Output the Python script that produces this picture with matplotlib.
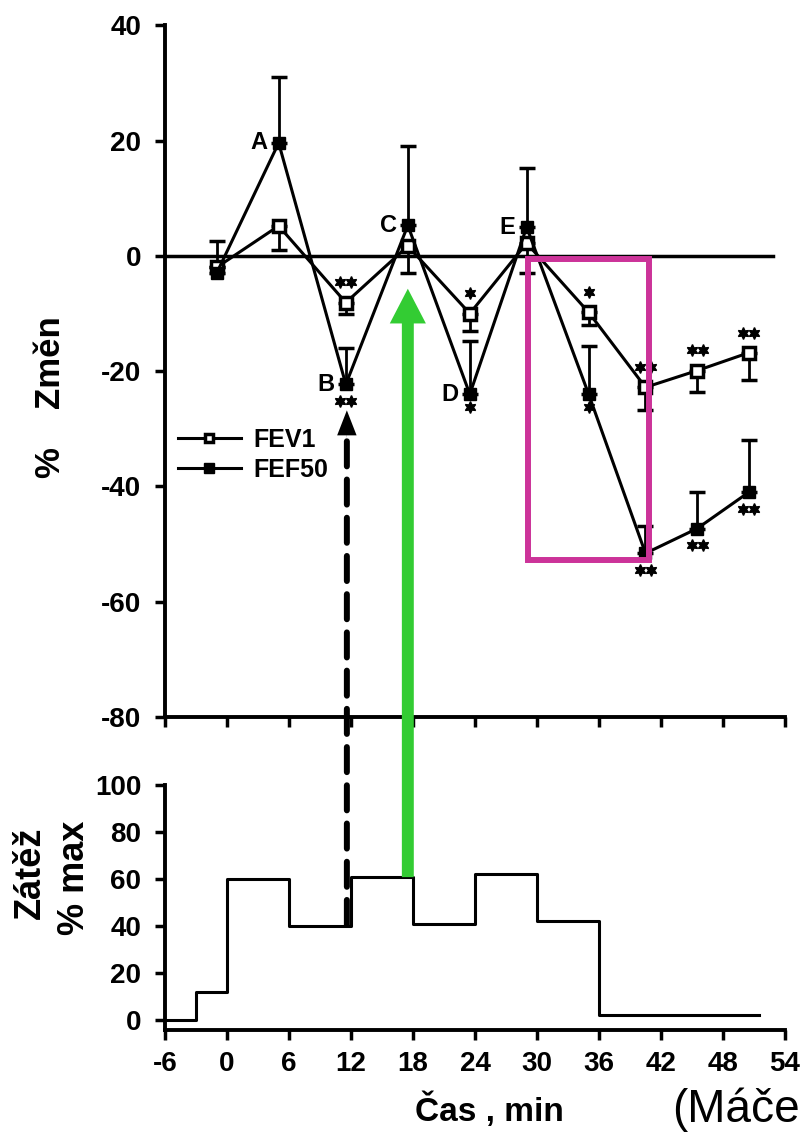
import numpy as np
import matplotlib.pyplot as plt
from matplotlib.patches import Rectangle, ConnectionPatch, ArrowStyle
from matplotlib.transforms import offset_copy

plt.rcParams['font.family'] = ['Liberation Sans', 'DejaVu Sans']
plt.rcParams['font.weight'] = 'bold'
plt.rcParams['axes.unicode_minus'] = False

# ------------------ data ------------------
t_meas = [-1, 5, 11.5, 17.5, 23.5, 29, 35, 40.5, 45.5, 50.5]
fev1 = [-2, 5.2, -8.1, 1.7, -10, 2.2, -9.8, -22.8, -19.9, -16.8]
fev1_err = [0, 4.2, 1.9, 4.7, 3, 5.2, 2.2, 4, 3.8, 4.8]
fef50 = [-3, 19.6, -22.3, 5.3, -24, 5, -24, -51.6, -47.3, -41]
fef50_err = [5.5, 11.5, 6.3, 13.8, 9.3, 10.3, 8.3, 4.8, 6.3, 9]
sig = ['', '', '**', '', '*', '', '*', '**', '**', '**']
point_labels = ['', 'A', 'B', 'C', 'D', 'E', '', '', '', '']

load_t = [-6, -3, 0, 6, 12, 18, 24, 30, 36, 51.5]
load = [0, 12, 60, 40, 61, 41, 62, 42, 2, 2]

x_ticks = [-6, 0, 6, 12, 18, 24, 30, 36, 42, 48, 54]
top_yticks = [40, 20, 0, -20, -40, -60, -80]
bot_yticks = [0, 20, 40, 60, 80, 100]

# ------------------ figure ------------------
fig = plt.figure(figsize=(8.01, 11.34), dpi=100)
ax = fig.add_axes([0.206, 0.3677, 0.774, 0.610])
ax2 = fig.add_axes([0.206, 0.0917, 0.774, 0.216])

for a in (ax, ax2):
    a.spines['top'].set_visible(False)
    a.spines['right'].set_visible(False)
    a.spines['left'].set_linewidth(2.8)
    a.spines['bottom'].set_linewidth(2.8)
    a.set_xlim(-6, 54)
    a.set_xticks(x_ticks)
    a.tick_params(axis='both', width=2.5, length=7, labelsize=20)
    a.tick_params(axis='y', pad=10)
    a.tick_params(axis='x', pad=8)

# ------------------ top panel ------------------
ax.set_ylim(-80, 40)
ax.set_yticks(top_yticks)
ax.set_xticklabels([])
ax.axhline(0, xmax=0.98, color='k', lw=2.5)

zeros = np.zeros(len(t_meas))
ax.errorbar(t_meas, fev1, yerr=[fev1_err, zeros], fmt='none', ecolor='k',
            elinewidth=2, capsize=6, capthick=2.5)
ax.errorbar(t_meas, fef50, yerr=[zeros, fef50_err], fmt='none', ecolor='k',
            elinewidth=2, capsize=6, capthick=2.5)
ax.plot(t_meas, fev1, '-s', color='k', mfc='white', mec='k', mew=2.5, ms=8,
        lw=2.2, label='FEV1', zorder=4)
ax.plot(t_meas, fef50, '-s', color='k', mfc='k', ms=9, lw=2.2,
        label='FEF50', zorder=4)

# hvezdicky vyznamnosti
for i, s in enumerate(sig):
    n = len(s)
    for j in range(n):
        dx = (j - (n - 1) / 2) * 8
        tr = offset_copy(ax.transData, fig=fig, x=dx, y=14.5, units='points')
        ax.plot(t_meas[i], fev1[i], marker=(6, 1, 0), ms=8.5, color='k',
                transform=tr, zorder=5)
        dy = -12 if n == 2 else -9
        tr = offset_copy(ax.transData, fig=fig, x=dx, y=dy, units='points')
        ax.plot(t_meas[i], fef50[i], marker=(6, 1, 0), ms=8.5, color='k',
                transform=tr, zorder=5)

for i, lbl in enumerate(point_labels):
    if lbl:
        ax.annotate(lbl, (t_meas[i], fef50[i]), xytext=(-8, 0),
                    textcoords='offset points', ha='right', va='center',
                    fontsize=17, fontweight='bold')

ax.legend(loc='upper left', bbox_to_anchor=(0.021, 0.418), frameon=False,
          handlelength=2.5, handletextpad=0.5, labelspacing=0.25,
          borderaxespad=0, borderpad=0, prop={'weight': 'bold', 'size': 18},
          markerscale=0.75)

ax.add_patch(Rectangle((29.1, -52.8), 11.7, 52.3, fill=False,
                       ec='#cc3399', lw=4.3, zorder=10, clip_on=False))

# ------------------ bottom panel ------------------
ax2.set_ylim(-4.3, 100)
ax2.set_yticks(bot_yticks)
ax2.step(load_t, load, where='post', color='k', lw=2.2)

# ------------------ popisky ------------------
fig.text(50 / 801, 1 - 463 / 1134, '%', rotation=90, ha='center',
         va='center', fontsize=25, fontweight='bold')
fig.text(50 / 801, 1 - 362 / 1134, 'Změn', rotation=90, ha='center',
         va='center', fontsize=25, fontweight='bold')
fig.text(30 / 801, 1 - 873 / 1134, 'Zátěž', rotation=90, ha='center',
         va='center', fontsize=26, fontweight='bold')
fig.text(75 / 801, 1 - 878 / 1134, '% max', rotation=90, ha='center',
         va='center', fontsize=26, fontweight='bold')
fig.text(489 / 801, 1 - 1110 / 1134, 'Čas , min', ha='center', va='center',
         fontsize=24, fontweight='bold')
fig.text(672 / 801, 1 - 1122 / 1134, '(Máče', ha='left', va='baseline',
         fontsize=33, fontweight='normal')

# ------------------ sipky ------------------
dash = ConnectionPatch(xyA=(11.6, 40.4), coordsA=ax2.transData,
                       xyB=(11.6, -31.5), coordsB=ax.transData,
                       color='k', lw=4.3, linestyle=(0, (4.2, 2.2)),
                       zorder=20)
fig.add_artist(dash)
ax.annotate('', xy=(11.6, -26.8), xytext=(11.6, -31.5),
            arrowprops=dict(arrowstyle='simple,head_length=1.8,head_width=1.4,tail_width=0.01',
                            fc='k', ec='k', lw=0, shrinkA=0, shrinkB=0,
                            mutation_scale=10))

green = ConnectionPatch(xyA=(17.5, 60.8), coordsA=ax2.transData,
                        xyB=(17.5, -5.7), coordsB=ax.transData,
                        arrowstyle=ArrowStyle('simple', head_length=2.5,
                                              head_width=2.6, tail_width=0.86),
                        mutation_scale=10, fc='#33cc33', ec='none', lw=0,
                        zorder=20)
fig.add_artist(green)

plt.savefig('out.png', dpi=100)
